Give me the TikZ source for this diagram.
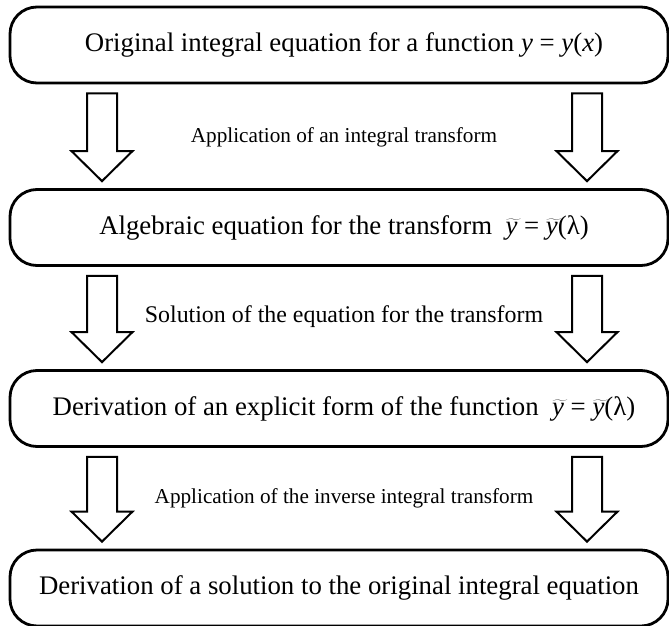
\documentclass[tikz,border=0pt]{standalone}
\usepackage{fontspec}
\setmainfont{Liberation Serif}
\usetikzlibrary{calc}
\newcommand{\ity}{\textit{y}}
\newcommand{\tily}{$\widetilde{\mbox{\itshape y\kern0.15em}}\kern-0.15em$}
% block arrow from the upper box #1 to the lower box #2, at x = #3
\newcommand{\blockarrow}[3]{%
  \draw[fatarrow] let \p1=(#1.south), \p2=(#2.north) in
    (#3-15,\y1-9) -- (#3+15,\y1-9) -- (#3+15,\y2+37) -- (#3+30.5,\y2+37)
    -- (#3,\y2+7) -- (#3-30.5,\y2+37) -- (#3-15,\y2+37) -- cycle;}

\begin{document}
\begin{tikzpicture}[x=1pt,y=1pt,
  stage/.style={draw, line width=2.8pt, rounded corners=27pt, minimum width=658pt,
    minimum height=76pt, inner sep=0pt, font=\fontsize{26.8}{30}\selectfont},
  fatarrow/.style={draw, line width=2pt, fill=white, line join=miter},
  steplabel/.style={inner sep=0pt}]
\useasboundingbox (0,0) rectangle (669,-626);

% the four stages
\node[stage] (orig) at (339,-45) {\hspace*{10pt}Original integral equation for a function \ity{} = \ity(\textit{x})};
\node[stage] (alg) at (339,-227.5) {\hspace*{10pt}Algebraic equation for the transform \ \tily{} = \tily(λ)};
\node[stage] (expl) at (339,-408.5) {\hspace*{10pt}Derivation of an explicit form of the function \ \tily{} = \tily(λ)};
\node[stage] (sol) at (339,-588) {Derivation of a solution to the original integral equation};

% what happens between them
\node[steplabel, font=\fontsize{21.2}{24}\selectfont] (apply) at (344,-137) {Application of an integral transform};
\node[steplabel, font=\fontsize{23.9}{27}\selectfont] (solve) at (344,-317) {Solution of the equation for the transform};
\node[steplabel, font=\fontsize{21.2}{24}\selectfont] (invert) at (344,-498) {Application of the inverse integral transform};

\blockarrow{orig}{alg}{102}
\blockarrow{orig}{alg}{587}
\blockarrow{alg}{expl}{102}
\blockarrow{alg}{expl}{587}
\blockarrow{expl}{sol}{102}
\blockarrow{expl}{sol}{587}
\end{tikzpicture}
\end{document}
